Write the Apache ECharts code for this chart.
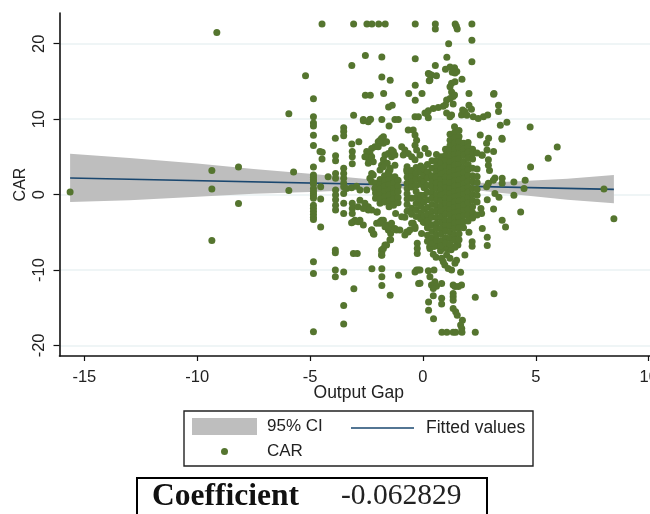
<!DOCTYPE html>
<html><head><meta charset="utf-8">
<style>html,body{margin:0;padding:0;background:#fff}#c{width:650px;height:514px}</style>
<script src="https://cdn.jsdelivr.net/npm/echarts@6/dist/echarts.min.js"></script>
</head><body><div id="c"></div>
<script>
const xTicks=[-15,-10,-5,0,5,10];
const yTicks=[-20,-10,0,10,20];
const fitGap=[-15.63,8.46];
const fitCar=[2.19,0.69];
const ciGap=[-15.63,-13,-10,-7.5,-5,-2.5,0,1.2,3.06,5.1,6.4,8.46];
const ciUpper=[5.4,4.85,4.13,3.4,2.75,2.05,1.55,1.42,1.6,1.9,2.1,2.6];
const ciLower=[-1.0,-0.75,-0.3,0.1,0.35,0.65,0.9,0.98,0.35,-0.3,-0.7,-1.15];
const topCapped=[[-4.47,22.6],[-3.07,22.6],[-2.48,22.6],[-2.26,22.6],[-1.96,22.6],[-1.67,22.6],[-0.34,22.6],[0.55,22.6],[0.55,21.95],[1.43,22.6],[1.52,21.95],[2.17,22.6],[1.48,22.3]];
const farLeft=[[-15.63,0.33],[-9.13,21.5],[-9.35,3.2],[-9.35,0.75],[-8.17,3.65],[-8.17,-1.2],[-9.35,-6.1],[-5.2,15.75],[-5.94,10.7],[-5.94,0.55],[-5.73,3.0],
[-4.53,-4.3],[-4.53,-0.6],[-4.53,1.05],[-4.56,5.7],[-4.47,4.7],[-4.46,5.6]];
const gapMinus485=[12.7,10.3,9.5,9.1,7.85,6.5,3.65,2.6,2.3,2.0,1.7,1.4,0.8,0.4,0.1,-0.2,-0.5,-1.4,-1.8,-2.2,-2.6,-3.0,-3.3,-8.9,-10.45,-18.2];
const farRight=[[3.43,9.2],[3.72,9.6],[4.75,8.95],[3.5,7.45],[2.91,7.45],[2.82,6.8],[2.54,7.9],[2.61,5.25],[2.84,5.9],[3.13,5.7],[5.55,4.8],[5.95,6.3],[4.77,3.65],[4.53,1.9],[4.48,0.8],[4.03,1.65],[4.03,-0.1],[4.33,-2.3],[8.02,0.73],[8.46,-3.2],[3.51,7.35],[3.13,13.3],[2.63,5.2],[2.9,4.6],[2.9,3.9],[2.95,3.2],[3.19,2.2],[3.12,1.9],[3.51,2.15],[3.51,1.5],[2.9,1.5],[2.82,1.05],[3.19,0.15],[3.37,-0.35],[2.85,-0.7],[3.13,-1.9],[2.57,-1.85],[2.6,-2.5],[3.51,-3.4],[3.66,-4.3],[2.63,-4.5],[2.85,-5.65],[2.85,-6.75],[2.18,-6.25],[2.18,-6.85],[2.04,-5],[1.86,-8]];
const upperFan=[[1.14,20],[2.17,20.45],[1.06,18.2],[2.17,17.6],[0.55,17.1],[1,16.6],[1.2,16.9],[1.4,16.8],[1.5,16.3],[1.3,16.2],[1.42,16.1],[0.24,16.05],[0.38,15.85],[0.6,15.75],[0.31,15.2],[1.73,15.3],[1.27,14.75],[1.2,14.3],[1.42,14.95],[-0.04,13.4],[2.04,13.4],[3.15,13.4],[1.27,13.6],[1.34,13],[1.2,12.75],[1.05,12.55],[1.4,13.2],[1.34,12],[3.35,11.85],[3.35,11],[2.04,11.85],[2.15,11.3],[1,11.9],[0.9,11.7],[0.68,11.55],[0.46,11.4],[0.24,11.1],[0.09,10.8],[0.24,10.2],[1.05,10.8],[1.27,10.55],[1.2,10.3],[1.76,11.2],[1.71,10.55],[1.86,11],[2.23,10.3],[2.45,10.1],[2.68,10.3],[2.87,10.55],[1.95,10.5],
[-2.55,18.45],[-1.82,18.25],[-3.15,17.1],[-0.34,18],[-1.82,15.6],[-1.45,15.15],[-0.34,14.5],[-2.55,13.15],[-2.33,13.15],[-1.74,13.4],[-0.63,13.4],[-0.34,12.5],[-1.52,11.6],[-1.36,11.85],[0.28,16],[0.28,15.1],[-3.07,10.5],[-2.64,9.95],[-2.35,9.95],[-1.82,9.95],[-1.24,9.95],[-1.09,9.95],[-0.35,10.3],[-0.2,10.3],[0.18,10.7]];
const midLeft=[[-2.64,9.8],[-2.42,9.65],[-2.32,10],[-1.5,9.1],[-3.51,8.85],[-3.51,8.35],[-3.51,7.8],[-3.88,7.45],[-3.15,6.7],[-2.84,7],[-3.13,5.7],[-3.13,5],[-3.13,4.1],[-3.87,5.15],[-3.87,4.5],[-3.51,3.5],[-3.51,2.8],[-4.2,2.35],[-3.87,2.8],[-3.87,2.15],[-3.51,2.15],[-3.51,1.5],[-3.51,1.05],[-3.38,0.8],[-3.16,0.9],[-2.94,1.1],[-2.79,0.6],[-2.49,0.6],[-3.87,0.6],[-3.87,-0.05],[-3.87,-0.7],[-3.87,-1.4],[-3.87,-2.05],[-3.51,0.15],[-3.51,-1.15],[-3.51,-2.5],[-3.13,-1.15],[-3.13,-1.85],[-3.13,-2.5],[-2.79,-0.75],[-2.57,-1.15],[-2.42,-1.6],[-2.27,-2.05],[-2.02,-2.3],[-1.21,-2.5],[-1.83,-3.4],[-3.08,-3.6],[-2.27,2.8],[-2.35,2.15],
[-1.83,7.45],[-1.98,7],[-1.75,6.8],[-2.13,6.35],[-2.27,6.1],[-2.35,5.45],[-2.42,4.8],[-2.27,5],[-2.2,4.35],[-2.42,4.15],[-2.49,5.7],[-1.68,5.25],[-1.75,4.6],[-1.83,3.9],[-1.9,3.25],[-1.53,5.45],[-1.39,5.9],[-1.39,5],[-1.58,4.15],[-1.46,3.5],[-1.24,3.9],[-1.53,3],
[-0.94,6.35],[-0.8,5.9],[-0.65,5.45],[-0.5,5],[-0.35,4.6],[-0.87,5.25],[-0.65,8.55],[-0.43,8.55],[-0.35,7.9],[-0.28,7.2],[-0.35,6.55],[-0.28,5.9],[-0.13,5.25],[0.09,6.1],[0.24,5.45],[-0.72,3.25],[-0.58,2.8],[-0.35,2.6],[-0.13,3],[0.01,2.15],[0.24,2.8],
[-2.57,5],[-1.9,7.2],[-1.75,7.65],[-1.61,7],[-1.98,6.35],[-1.31,5.7],[-1.24,5.25],[-1.75,3.7],[-1.46,3.25],[-1.24,2.35],[-1.61,2.35],[-2.2,2.6],[-2.27,1.7],[-2.13,0.8],[-1.9,0.35],[-1.53,1.05],[-1.17,0.6],[-1.31,-0.3],[-1.68,-0.75],[-1.9,-1.15],[-2.42,-2.05],[-2.05,-2.3]];
const lowerMid=[[-0.8,-3],[-0.94,-2.95],[-1.9,-3.6],[-1.75,-3.4],[-2.05,-3.8],[-1.61,-4.05],[-1.46,-4.3],[-1.24,-4.5],[-1.53,-4.7],[-1.17,-4.7],[-2.88,-1.6],[-2.64,-1.85],[-2.79,-3.4],[-3.01,-3.4],[-2.64,-4.05],[-2.27,-4.7],[-2.2,-5.15],[-0.43,-3.8],[-0.35,-4.5],[-0.8,-5.35],[-0.65,-4.95],[-0.06,-5.15],[-1.46,-6],[-1.61,-6.7],[-1.83,-7.35],[-1.83,-8],[-0.25,-6.45],[-0.25,-7.15],[-0.25,-7.8],[0.01,-3.6],[0.24,-3.4],[-3.88,-7.35],[-3.88,-7.7],[-3.08,-7.8],[-2.91,-7.8],[-3.88,-10],[-3.88,-10.9],[-3.51,-10.25],[-3.06,-12.5],[-3.51,-14.7],[-3.51,-17.15],[-2.26,-9.85],[-1.82,-9.85],[-1.82,-10.9],[-1.82,-12.05],[-1.08,-10.7],[-1.45,-13.35],[-0.35,-10.25],[-0.28,-10],[-0.2,-10],[-0.19,-11.8],[-1.82,-7.6],[-1.75,-7.15],[-1.68,-6.7],[-1.82,-8.05],[-2.17,-5.25],[-3.16,-3.75],[-2.87,-3.6],[-1.43,-5.15],[-1.43,-6],[-0.72,-4.95],[-0.58,-4.7],[-0.5,-3.8],[-0.35,-4.25],[0.31,-4.05],[-1.9,-3.8],[-1.68,-4.25],[-1.39,-3.8],[-1.02,-4.7],[-2.27,-4.7]];
const lowerTail=[[0.95,-7.1],[1.1,-7.2],[1.25,-7.3],[0.65,-6.8],[1.55,-6.7],[0.3,-6.9],[1.0,-6.9],[1.49,-6.7],[1.42,-7],[0.31,-7.15],[0.49,-6.9],[0.78,-7.45],[0.46,-7.9],[0.58,-8.3],[1.05,-8],[0.83,-8.45],[0.9,-8.9],[1.2,-8.45],[0.97,-9.35],[1.12,-9.8],[1.27,-10],[1.49,-8.7],[1.42,-9.1],[1.67,-10.3],[-0.13,-10],[0.24,-10.1],[0.49,-10],[0.31,-10.9],[0.53,-11.55],[0.38,-12],[0.6,-12.15],[0.83,-11.8],[0.46,-12.45],[1.34,-12],[1.42,-12.2],[1.71,-12],[1.57,-12.2],[-0.13,-11.75],[1.34,-13.1],[1.34,-13.55],[1.34,-14],[2.32,-13.6],[3.15,-13.15],[0.46,-13.4],[0.83,-13.75],[0.83,-14.5],[0.25,-14.25],[0.25,-15.35],[1.34,-15.1],[1.45,-15.55],[1.52,-16],[0.47,-16.45],[1.75,-16.65],[1.67,-17.3],[1.72,-17.75],[0.84,-18.25],[1.06,-18.25],[1.34,-18.25],[1.45,-18.25],[1.73,-18.25],[2.32,-18.25]];
const coreGap=[-2.1,-1.9,-1.7,-1.5,-1.3,-1.1,-0.7,-0.5,-0.3,-0.1,0.05,0.2,0.4,0.6,0.8,1.0,1.2,1.4,1.6,1.8,2.0,2.2,2.4];
const coreCar=[[1.5,0.9,0.2,-0.5],[2,1.3,0.7,0,-0.6],[2.5,1.8,1.1,0.4,-0.3,-1],[2.7,2,1.3,0.6,-0.1,-0.9,-1.6],[2.2,1.5,0.8,0.1,-0.6,-1.4],[1.9,1.1,0.4,-0.4,-1.1],
[3.7,3,2.3,1.5,0.8,0.1,-0.6,-1.3,-2.2],[3.2,2.4,1.7,1,-0.5,-1.8,-2.6],[3.6,2.8,2,1.2,0.4,-0.4,-1.2,-2,-2.9],[3.8,3,2.1,1.4,-0.1,-0.7,-1.5,-2.4,-3.2],[3.4,2.5,1.7,0.9,-0.1,-1,-1.9,-2.8,-3.7],
[4,3,2.2,1.2,0.3,-0.7,-1.7,-2.6,-3.5,-4.4,-5.4,-6.2],[4.5,3.5,2.5,1.7,1,0.2,-0.5,-1.3,-2.2,-3,-4,-4.9,-5.8,-6.5],[5.3,4.5,3.8,3,2.3,1.5,0.8,0,-0.7,-1.5,-2.2,-3,-3.8,-4.5,-5.3,-6],[5,4.2,3.4,2.7,2,1.3,0.6,-0.1,-0.8,-1.5,-2.3,-3,-3.7,-4.5,-5.2,-6.1,-6.8],[6,5.2,4.5,3.8,3,2.3,1.6,0.9,0.2,-0.5,-1.2,-1.9,-2.6,-3.4,-4.1,-4.8,-5.7,-6.4],
[8,7.2,6.5,5.8,5,4.3,3.6,2.9,2.2,1.5,0.8,0.1,-0.6,-1.3,-2,-2.7,-3.5,-4.2,-5,-5.8,-6.6],[9,8.2,7.5,6.8,6,5.3,4.6,3.9,3.2,2.5,1.8,1.1,0.4,-0.3,-1,-1.7,-2.4,-3.1,-3.8,-4.5,-5.3,-6],[8.5,7.7,7,6.2,5.4,4.7,4,3.3,2.6,1.9,1.2,0.5,-0.2,-0.9,-1.6,-2.3,-3,-3.7,-4.4,-5.2,-6],[6.8,6,5.2,4.4,3.6,2.9,2.1,1.4,0.7,0,-0.7,-1.4,-2.1,-2.8,-3.6,-4.4],[6.9,6.3,5.6,4.8,4,3.3,2.5,1.8,1,0.3,-0.4,-1.1,-1.9,-2.7,-3.5],[6,5.4,4.7,3.5,2.5,1.7,0.8,0,-0.8,-1.6,-2.4,-3.1],[5.5,3.4,2.4,1.6,0.7,-0.1,-1,-2.7]];

const carPoints=[].concat(topCapped,farLeft,gapMinus485.map(v=>[-4.85,v]),farRight,upperFan,midLeft,lowerMid,lowerTail);
coreGap.forEach((g,i)=>coreCar[i].forEach(v=>carPoints.push([g,v])));

const GREEN='#55752f',GREY='#bebebe',NAVY='#1a476f',TXT='#222';
const FONT='"Liberation Sans",Arial,sans-serif';
const chart=echarts.init(document.getElementById('c'),null,{renderer:'canvas'});
chart.setOption({
  animation:false,backgroundColor:'#fff',
  grid:{left:59.5,top:13,width:590.5,height:343,containLabel:false,outerBoundsMode:'none'},
  xAxis:{type:'value',min:-16.1,max:10.06,
    name:'Output Gap',nameLocation:'middle',nameGap:28,nameMoveOverlap:false,
    nameTextStyle:{fontFamily:FONT,fontSize:17.5,color:TXT,padding:[0,0,0,8]},
    axisLine:{onZero:false,lineStyle:{color:'#111',width:1.6}},
    axisTick:{length:5,customValues:xTicks,lineStyle:{color:'#111',width:1.2}},
    axisLabel:{customValues:xTicks,fontFamily:FONT,fontSize:16.5,color:TXT,margin:13,showMaxLabel:true,hideOverlap:false},
    splitLine:{show:false}},
  yAxis:{type:'value',min:-21.4,max:24.07,
    name:'CAR',nameLocation:'middle',nameGap:31,nameMoveOverlap:false,
    nameTextStyle:{fontFamily:FONT,fontSize:16,color:TXT},
    axisLine:{onZero:false,lineStyle:{color:'#111',width:1.6}},
    axisTick:{length:6,customValues:yTicks,lineStyle:{color:'#111',width:1.2}},
    axisLabel:{customValues:yTicks,rotate:90,fontFamily:FONT,fontSize:16.5,color:TXT,margin:12,hideOverlap:false},
    splitLine:{show:true,lineStyle:{color:'#eaf2f3',width:1.5}}},
  legend:[
    {data:[{name:'95% CI',icon:'rect',itemStyle:{color:GREY}}],left:192,top:418,itemWidth:65,itemHeight:17,padding:0,
     textStyle:{fontFamily:FONT,fontSize:17,color:TXT,padding:[0,0,0,5]},selectedMode:false},
    {data:[{name:'Fitted values',icon:'rect',itemStyle:{color:NAVY}}],left:351,top:419,itemWidth:63,itemHeight:1.5,padding:0,
     textStyle:{fontFamily:FONT,fontSize:17.5,color:TXT,padding:[0,0,0,7]},selectedMode:false},
    {data:[{name:'CAR',icon:'circle'}],left:221,top:443,itemWidth:7,itemHeight:7,padding:0,
     textStyle:{fontFamily:FONT,fontSize:17,color:TXT,padding:[0,0,0,34]},selectedMode:false}
  ],
  series:[
    {name:'95% CI',type:'custom',coordinateSystem:'cartesian2d',z:2,clip:false,
     itemStyle:{color:GREY},
     data:ciGap.map((g,i)=>[g,ciLower[i],ciUpper[i]]),
     encode:{x:0,y:[1,2]},
     renderItem:(p,api)=>{
       if(p.dataIndex!==0) return null;
       const pts=[];
       ciGap.forEach((g,i)=>pts.push(api.coord([g,ciUpper[i]])));
       for(let i=ciGap.length-1;i>=0;i--) pts.push(api.coord([ciGap[i],ciLower[i]]));
       return {type:'polygon',shape:{points:pts},style:{fill:GREY}};
     }},
    {name:'Fitted values',type:'line',z:3,symbol:'none',data:fitGap.map((g,i)=>[g,fitCar[i]]),
     lineStyle:{color:NAVY,width:1.6},itemStyle:{color:NAVY}},
    {name:'CAR',type:'scatter',z:4,symbol:'circle',symbolSize:7,data:carPoints,
     itemStyle:{color:GREEN,opacity:1},large:false}
  ],
  graphic:[
    {type:'rect',z:1,shape:{x:184,y:411,width:349,height:55},style:{fill:'none',stroke:'#222',lineWidth:1.4}},
    {type:'rect',z:1,shape:{x:137,y:478,width:350,height:60},style:{fill:'none',stroke:'#000',lineWidth:2}},
    {type:'text',z:5,x:152,y:481,style:{text:'Coefficient',fontFamily:'"Liberation Serif",serif',fontWeight:'bold',fontSize:31.5,fill:'#111'}},
    {type:'text',z:5,x:341,y:481,style:{text:'-0.062829',fontFamily:'"Liberation Serif",serif',fontSize:29.5,fill:'#222'}}
  ]
});
</script></body></html>
